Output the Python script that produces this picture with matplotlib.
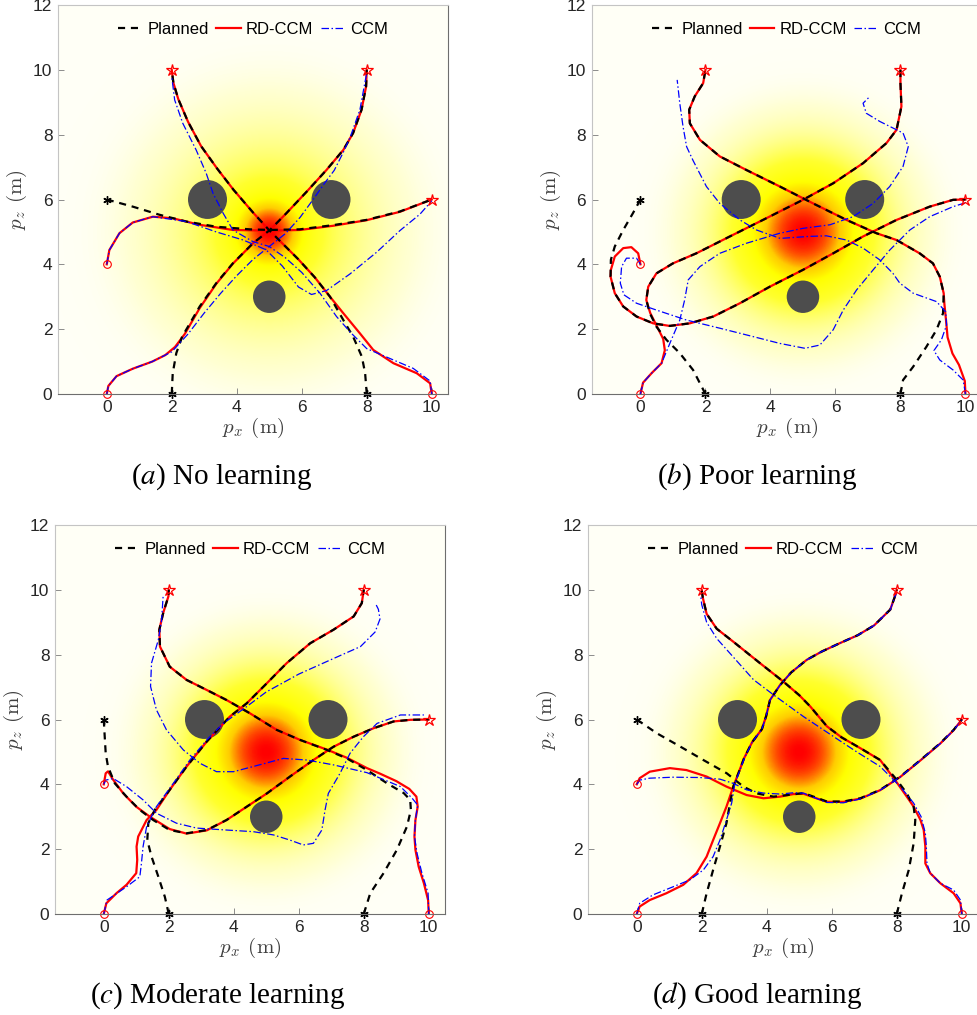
import numpy as np
import matplotlib
matplotlib.use("Agg")
import matplotlib.pyplot as plt
from matplotlib.colors import LinearSegmentedColormap
from matplotlib.patches import Circle

# ---------------- data ----------------
CAPTION_LETTERS = ["a", "b", "c", "d"]
CAPTION_TEXTS = ["No learning", "Poor learning", "Moderate learning", "Good learning"]
LEGEND_LABELS = ["Planned", "RD-CCM", "CCM"]
X_TICKS = [0, 2, 4, 6, 8, 10]
Y_TICKS = [0, 2, 4, 6, 8, 10, 12]
OBSTACLE_X = [3.1, 6.9, 5.0]
OBSTACLE_Y = [6.0, 6.0, 3.0]
OBSTACLE_R = [0.6, 0.6, 0.5]
FIELD_CENTER = (5.0, 5.0)
# Gaussian mixture (weight, sigma) describing the disturbance field per panel
FIELD_MIX = [[(0.5, 0.8), (0.5, 2.2)], [(1.0, 1.7)], [(1.0, 1.7)], [(1.0, 1.7)]]

# ---- (a) No learning ----
A_PLAN1 = [(2, 0), (2.03, 0.64), (2.14, 1.26), (2.32, 1.77), (2.6, 2.25), (2.86, 2.7), (3.37, 3.42), (3.88, 4.03), (4.5, 4.65), (5.02, 5.06), (5.53, 5.58), (6.15, 6.24), (6.76, 6.91), (7.28, 7.53), (7.58, 8.05), (7.84, 8.77), (7.98, 9.49), (8.0, 10)]
A_RD1 = [(0, 0), (0.05, 0.25), (0.3, 0.55), (0.8, 0.78), (1.4, 1.0), (1.8, 1.2), (2.1, 1.45), (2.4, 1.85), (2.86, 2.65), (3.37, 3.4), (3.88, 4.02), (4.5, 4.65), (5.02, 5.06), (5.53, 5.58), (6.15, 6.24), (6.76, 6.91), (7.28, 7.53), (7.58, 8.05), (7.84, 8.77), (7.98, 9.49), (8.0, 10)]
A_CCM1 = [(0, 0), (0.05, 0.25), (0.3, 0.55), (0.8, 0.78), (1.4, 1.0), (2.0, 1.3), (2.5, 1.85), (3.0, 2.5), (3.5, 3.1), (4.0, 3.65), (4.5, 4.15), (5.0, 4.55), (5.5, 4.95), (5.95, 5.45), (6.35, 6.0), (6.7, 6.5), (7.0, 6.9), (7.3, 7.5), (7.5, 7.95), (7.79, 8.77), (7.94, 9.59), (8.0, 9.9)]
A_PLAN2 = [(8, 0), (7.95, 0.64), (7.85, 1.15), (7.58, 1.77), (7.28, 2.28), (6.87, 3.0), (6.4, 3.6), (5.9, 4.15), (5.4, 4.65), (5.0, 5.05), (4.5, 5.6), (3.9, 6.3), (3.4, 6.95), (2.9, 7.65), (2.5, 8.4), (2.2, 9.1), (2.05, 9.6), (2, 10)]
A_RD2 = [(10, 0), (9.95, 0.33), (9.54, 0.64), (8.82, 0.95), (8.2, 1.36), (7.79, 1.87), (7.28, 2.49), (6.87, 3.0), (6.4, 3.6), (5.9, 4.15), (5.4, 4.65), (5.0, 5.05), (4.5, 5.6), (3.9, 6.3), (3.4, 6.95), (2.9, 7.65), (2.5, 8.4), (2.2, 9.1), (2.05, 9.6), (2, 10)]
A_CCM2 = [(10, 0), (9.95, 0.4), (9.43, 0.79), (8.82, 1.05), (8.0, 1.4), (7.5, 1.9), (7.07, 2.39), (6.56, 3.11), (6.0, 3.75), (5.5, 4.2), (5.0, 4.55), (4.5, 4.7), (3.88, 5.06), (3.58, 5.58), (3.27, 6.19), (3.06, 6.81), (2.75, 7.53), (2.34, 8.35), (2.09, 9.07), (2.0, 9.79)]
A_PLAN3 = [(0, 6.0), (0.8, 5.78), (1.62, 5.53), (2.45, 5.32), (3.37, 5.16), (4.4, 5.08), (5.02, 5.06), (5.94, 5.08), (6.97, 5.21), (7.99, 5.37), (9.02, 5.63), (10, 6.0)]
A_RD3 = [(0, 4.0), (0.08, 4.44), (0.39, 4.96), (0.8, 5.29), (1.42, 5.47), (2.03, 5.42), (2.86, 5.22), (3.88, 5.06), (5.02, 5.04), (5.94, 5.06), (6.97, 5.19), (7.99, 5.36), (9.02, 5.62), (10, 6.0)]
A_CCM3 = [(0, 4.0), (0.08, 4.44), (0.39, 4.96), (0.8, 5.29), (1.42, 5.47), (2.45, 5.32), (3.37, 5.0), (4.2, 4.75), (4.9, 4.45), (5.4, 3.95), (5.9, 3.3), (6.3, 3.07), (6.76, 3.19), (7.48, 3.7), (8.3, 4.37), (9.02, 5.04), (9.64, 5.55), (10, 5.96)]

# ---- (b) Poor learning ----
B_PLAN1 = [(2, 0), (1.62, 0.74), (1.21, 1.26), (0.8, 1.67), (0.49, 2.08), (0.29, 2.49), (0.18, 2.9), (0.24, 3.31), (0.49, 3.72), (1.0, 4.03), (1.72, 4.34), (2.75, 4.86), (3.77, 5.37), (5.0, 5.99), (5.93, 6.5), (6.85, 7.12), (7.57, 7.74), (7.88, 8.15), (8.03, 8.87), (8.0, 9.59), (8, 10)]
B_RD1 = [(0, 0), (0.08, 0.35), (0.35, 0.65), (0.65, 0.95), (0.75, 1.35), (0.7, 1.7), (0.5, 2.1), (0.3, 2.5), (0.18, 2.9), (0.24, 3.31), (0.49, 3.72), (1.0, 4.03), (1.72, 4.34), (2.75, 4.86), (3.77, 5.37), (5.0, 5.99), (5.93, 6.5), (6.85, 7.12), (7.57, 7.74), (7.88, 8.15), (8.03, 8.87), (8.0, 9.59), (8, 10)]
B_CCM1 = [(0, 0), (0.08, 0.35), (0.35, 0.65), (0.65, 0.95), (0.95, 1.67), (1.21, 2.28), (1.36, 2.9), (1.47, 3.52), (1.83, 3.93), (2.44, 4.34), (3.26, 4.65), (4.29, 4.96), (5.0, 5.11), (5.83, 5.22), (6.54, 5.47), (7.16, 5.88), (7.67, 6.4), (8.08, 7.02), (8.24, 7.63), (8.08, 8.05), (7.36, 8.41), (6.95, 8.66), (6.85, 8.97), (7.06, 9.18)]
B_PLAN2 = [(8, 0), (8.08, 0.43), (8.39, 0.84), (8.8, 1.46), (9.11, 1.98), (9.31, 2.49), (9.33, 3.11), (9.21, 3.62), (9.0, 4.03), (8.59, 4.34), (7.88, 4.75), (7.26, 4.96), (6.34, 5.37), (5.31, 5.88), (4.29, 6.4), (3.26, 6.91), (2.44, 7.33), (1.83, 7.84), (1.52, 8.35), (1.5, 8.77), (1.67, 9.18), (1.93, 9.59), (2, 10)]
B_RD2 = [(10, 0), (9.98, 0.4), (9.8, 0.9), (9.6, 1.25), (9.45, 1.75), (9.4, 2.3), (9.35, 2.8), (9.33, 3.11), (9.21, 3.62), (9.0, 4.03), (8.59, 4.34), (7.88, 4.75), (7.26, 4.96), (6.34, 5.37), (5.31, 5.88), (4.29, 6.4), (3.26, 6.91), (2.44, 7.33), (1.83, 7.84), (1.52, 8.35), (1.5, 8.77), (1.67, 9.18), (1.93, 9.59), (2, 10)]
B_CCM2 = [(10, 0), (9.93, 0.43), (9.62, 0.74), (9.21, 1.05), (9.03, 1.34), (9.26, 1.67), (9.42, 2.13), (9.39, 2.54), (9.11, 2.85), (8.39, 3.11), (7.98, 3.42), (7.77, 3.72), (7.36, 4.14), (6.85, 4.5), (6.34, 4.75), (5.72, 4.88), (5.16, 4.86), (4.3, 4.8), (3.57, 5.06), (3.06, 5.37), (2.44, 5.88), (2.03, 6.4), (1.62, 7.2), (1.42, 7.63), (1.31, 8.25), (1.21, 8.97), (1.13, 9.69)]
B_PLAN3 = [(0, 6.0), (-0.23, 5.58), (-0.53, 5.06), (-0.79, 4.55), (-0.91, 4.14), (-0.92, 3.62), (-0.79, 3.11), (-0.53, 2.7), (-0.12, 2.39), (0.39, 2.18), (0.9, 2.1), (1.52, 2.18), (2.24, 2.39), (3.06, 2.8), (3.98, 3.31), (5.0, 3.83), (5.93, 4.34), (6.85, 4.86), (7.88, 5.37), (8.9, 5.78), (9.62, 5.99), (10, 6)]
B_RD3 = [(0, 4.0), (-0.07, 4.34), (-0.28, 4.53), (-0.53, 4.5), (-0.79, 4.24), (-0.91, 3.83), (-0.92, 3.62), (-0.79, 3.11), (-0.53, 2.7), (-0.12, 2.39), (0.39, 2.18), (0.9, 2.1), (1.52, 2.18), (2.24, 2.39), (3.06, 2.8), (3.98, 3.31), (5.0, 3.83), (5.93, 4.34), (6.85, 4.86), (7.88, 5.37), (8.9, 5.78), (9.62, 5.99), (10, 6)]
B_CCM3 = [(0, 4.0), (-0.12, 4.19), (-0.43, 4.19), (-0.58, 3.93), (-0.62, 3.42), (-0.51, 3.06), (-0.12, 2.8), (0.49, 2.59), (1.42, 2.28), (2.44, 2.03), (3.47, 1.77), (4.29, 1.56), (5.06, 1.41), (5.52, 1.51), (5.93, 1.98), (6.24, 2.59), (6.65, 3.21), (7.16, 3.83), (7.67, 4.44), (8.29, 5.06), (8.9, 5.47), (9.62, 5.78), (10, 5.9)]

# ---- (c) Moderate learning ----
C_PLAN1 = [(2, 0), (1.88, 0.53), (1.68, 1.15), (1.47, 1.77), (1.34, 2.28), (1.37, 2.8), (1.57, 3.21), (2.03, 3.83), (2.55, 4.55), (3.17, 5.32), (3.88, 6.09), (4.4, 6.5), (5.02, 7.12), (5.63, 7.74), (6.35, 8.35), (7.07, 8.77), (7.69, 9.18), (7.94, 9.59), (8, 10)]
C_RD1 = [(0, 0), (0.08, 0.33), (0.39, 0.64), (0.7, 0.9), (1.0, 1.26), (1.03, 1.67), (1.01, 2.08), (1.06, 2.39), (1.32, 2.9), (1.62, 3.21), (2.03, 3.83), (2.55, 4.55), (3.17, 5.32), (3.88, 6.09), (4.4, 6.5), (5.02, 7.12), (5.63, 7.74), (6.35, 8.35), (7.07, 8.77), (7.69, 9.18), (7.94, 9.59), (8, 10)]
C_CCM1 = [(0, 0), (0.1, 0.43), (0.7, 0.84), (1.11, 1.15), (1.16, 1.57), (1.21, 2.08), (1.32, 2.7), (1.62, 3.31), (2.14, 4.03), (2.65, 4.75), (3.17, 5.37), (3.68, 5.88), (4.4, 6.4), (5.0, 6.85), (6.0, 7.4), (7.0, 7.85), (7.9, 8.25), (8.35, 8.7), (8.5, 9.1), (8.45, 9.4), (8.35, 9.6)]
C_PLAN2 = [(8, 0), (8.2, 0.64), (8.61, 1.26), (9.02, 1.98), (9.33, 2.7), (9.45, 3.21), (9.43, 3.52), (9.23, 3.73), (8.72, 4.03), (8.1, 4.44), (7.48, 4.8), (6.87, 5.06), (6.04, 5.37), (5.32, 5.68), (4.5, 6.19), (3.78, 6.6), (3.17, 6.91), (2.55, 7.22), (2.03, 7.63), (1.73, 8.25), (1.71, 8.77), (1.83, 9.29), (1.99, 9.8), (2, 10)]
C_RD2 = [(10, 0), (9.98, 0.43), (9.85, 0.95), (9.69, 1.46), (9.59, 1.98), (9.56, 2.39), (9.59, 2.9), (9.66, 3.31), (9.62, 3.62), (9.4, 3.86), (9.0, 4.1), (8.5, 4.33), (8.1, 4.5), (7.48, 4.82), (6.87, 5.07), (6.04, 5.37), (5.32, 5.68), (4.5, 6.19), (3.78, 6.6), (3.17, 6.91), (2.55, 7.22), (2.03, 7.63), (1.73, 8.25), (1.71, 8.77), (1.83, 9.29), (1.99, 9.8), (2, 10)]
C_CCM2 = [(10, 0), (9.98, 0.64), (9.79, 1.26), (9.64, 1.87), (9.56, 2.39), (9.59, 2.9), (9.66, 3.36), (9.49, 3.57), (9.13, 3.93), (8.1, 4.36), (7.07, 4.6), (6.25, 4.75), (5.53, 4.8), (4.6, 4.55), (3.99, 4.39), (3.47, 4.39), (2.96, 4.65), (2.45, 5.06), (1.93, 5.68), (1.62, 6.3), (1.44, 7.02), (1.47, 7.74), (1.68, 8.46), (1.78, 9.07), (1.83, 9.85)]
C_PLAN3 = [(0, 6.0), (0.03, 5.47), (0.06, 4.96), (0.13, 4.55), (0.34, 4.03), (0.7, 3.62), (1.11, 3.21), (1.52, 2.9), (2.03, 2.59), (2.55, 2.49), (3.17, 2.59), (3.78, 2.9), (4.4, 3.31), (5.02, 3.72), (5.73, 4.24), (6.45, 4.75), (7.07, 5.16), (7.69, 5.47), (8.3, 5.73), (8.92, 5.94), (9.44, 5.99), (10, 6.0)]
C_RD3 = [(0, 4.0), (0.06, 4.34), (0.13, 4.4), (0.29, 4.14), (0.6, 3.72), (1.0, 3.31), (1.42, 3.0), (2.03, 2.62), (2.55, 2.48), (3.17, 2.58), (3.78, 2.9), (4.4, 3.31), (5.02, 3.72), (5.73, 4.24), (6.45, 4.75), (7.07, 5.16), (7.69, 5.47), (8.3, 5.73), (8.92, 5.94), (9.44, 5.99), (10, 6.0)]
C_CCM3 = [(0, 4.0), (0.06, 4.13), (0.29, 4.18), (0.7, 3.93), (1.21, 3.52), (1.62, 3.11), (2.24, 2.8), (2.86, 2.65), (3.78, 2.59), (4.6, 2.54), (5.22, 2.44), (5.73, 2.28), (6.14, 2.13), (6.45, 2.18), (6.71, 2.59), (6.81, 3.21), (6.91, 3.72), (7.27, 4.34), (7.58, 4.96), (7.99, 5.47), (8.41, 5.88), (9.13, 6.14), (9.85, 6.14)]

# ---- (d) Good learning ----
D_PLAN1 = [(2, 0), (2.15, 0.64), (2.35, 1.36), (2.56, 2.08), (2.76, 2.8), (2.87, 3.42), (2.97, 3.93), (3.15, 4.4), (3.3, 4.8), (3.55, 5.3), (3.85, 5.7), (3.98, 6.1), (4.1, 6.6), (4.4, 7.05), (4.75, 7.45), (5.23, 7.84), (5.7, 8.1), (6.26, 8.36), (6.8, 8.6), (7.3, 8.9), (7.8, 9.39), (7.98, 9.9), (8, 10)]
D_RD1 = [(0, 0), (0.09, 0.23), (0.4, 0.43), (0.91, 0.64), (1.43, 0.9), (1.84, 1.26), (2.15, 1.77), (2.35, 2.28), (2.56, 2.8), (2.76, 3.31), (2.97, 3.93), (3.15, 4.4), (3.3, 4.8), (3.55, 5.3), (3.85, 5.7), (3.98, 6.1), (4.1, 6.6), (4.4, 7.05), (4.75, 7.45), (5.23, 7.84), (5.7, 8.1), (6.26, 8.36), (6.8, 8.6), (7.3, 8.9), (7.8, 9.39), (7.98, 9.9), (8, 10)]
D_CCM1 = [(0, 0), (0.09, 0.33), (0.5, 0.59), (1.12, 0.84), (1.63, 1.05), (2.05, 1.36), (2.35, 1.77), (2.56, 2.28), (2.76, 2.9), (2.92, 3.42), (3.02, 4.03), (3.17, 4.42), (3.31, 4.8), (3.55, 5.3), (3.85, 5.7), (3.98, 6.1), (4.1, 6.6), (4.4, 7.05), (4.75, 7.45), (5.23, 7.84), (5.7, 8.1), (6.26, 8.36), (6.8, 8.6), (7.3, 8.9), (7.8, 9.39), (7.98, 9.88)]
D_PLAN2 = [(8, 0), (8.16, 0.64), (8.37, 1.36), (8.52, 2.18), (8.57, 2.9), (8.52, 3.31), (8.31, 3.72), (8.0, 4.14), (7.49, 4.75), (6.87, 5.12), (6.3, 5.45), (5.85, 5.79), (5.34, 6.4), (5.0, 6.75), (4.51, 7.17), (3.79, 7.74), (2.97, 8.4), (2.46, 8.8), (2.15, 9.26), (2.03, 9.77), (2, 10)]
D_RD2 = [(10, 0), (9.96, 0.33), (9.75, 0.64), (9.34, 0.95), (9.03, 1.26), (8.88, 1.56), (8.88, 2.08), (8.83, 2.59), (8.73, 2.9), (8.52, 3.31), (8.31, 3.62), (8.0, 4.06), (7.49, 4.75), (6.87, 5.12), (6.3, 5.45), (5.85, 5.79), (5.34, 6.4), (5.0, 6.75), (4.51, 7.17), (3.79, 7.74), (2.97, 8.4), (2.46, 8.8), (2.15, 9.26), (2.03, 9.77), (2, 10)]
D_CCM2 = [(10, 0), (9.96, 0.43), (9.75, 0.74), (9.34, 0.95), (9.03, 1.26), (8.93, 1.56), (8.91, 2.08), (8.88, 2.49), (8.75, 3.0), (8.52, 3.42), (8.11, 3.93), (7.49, 4.55), (6.77, 5.0), (6.21, 5.37), (5.13, 6.09), (4.21, 6.76), (3.59, 7.23), (2.95, 7.95), (2.46, 8.5), (2.15, 9.0), (2.0, 9.54), (1.97, 9.8)]
D_PLAN3 = [(0, 6.0), (0.61, 5.58), (1.33, 5.17), (2.05, 4.75), (2.77, 4.34), (3.28, 3.93), (3.69, 3.72), (4.21, 3.62), (4.72, 3.68), (5.13, 3.73), (5.44, 3.62), (5.85, 3.47), (6.36, 3.47), (6.88, 3.57), (7.49, 3.83), (8.11, 4.24), (8.73, 4.75), (9.34, 5.27), (9.75, 5.68), (10, 6.0)]
D_RD3 = [(0, 4.0), (0.09, 4.19), (0.4, 4.39), (1.02, 4.5), (1.53, 4.44), (2.15, 4.24), (2.76, 3.93), (3.38, 3.67), (3.9, 3.57), (4.41, 3.62), (4.82, 3.7), (5.13, 3.71), (5.44, 3.6), (5.85, 3.46), (6.36, 3.46), (6.88, 3.56), (7.49, 3.82), (8.11, 4.23), (8.73, 4.74), (9.34, 5.26), (9.75, 5.67), (10, 6.0)]
D_CCM3 = [(0, 4.0), (0.09, 4.13), (0.4, 4.19), (1.12, 4.22), (1.94, 4.21), (2.56, 4.16), (2.97, 4.03), (3.38, 3.83), (3.9, 3.73), (4.41, 3.7), (4.82, 3.74), (5.13, 3.73), (5.44, 3.6), (5.85, 3.44), (6.36, 3.43), (6.88, 3.55), (7.49, 3.82), (8.11, 4.23), (8.73, 4.74), (9.34, 5.26), (9.75, 5.67), (10, 5.98)]

PANELS = [
    ([A_PLAN1, A_PLAN2, A_PLAN3], [A_RD1, A_RD2, A_RD3], [A_CCM1, A_CCM2, A_CCM3]),
    ([B_PLAN1, B_PLAN2, B_PLAN3], [B_RD1, B_RD2, B_RD3], [B_CCM1, B_CCM2, B_CCM3]),
    ([C_PLAN1, C_PLAN2, C_PLAN3], [C_RD1, C_RD2, C_RD3], [C_CCM1, C_CCM2, C_CCM3]),
    ([D_PLAN1, D_PLAN2, D_PLAN3], [D_RD1, D_RD2, D_RD3], [D_CCM1, D_CCM2, D_CCM3]),
]

# ---------------- layout / style ----------------
W, H = 977, 1015
fig = plt.figure(figsize=(W / 100, H / 100), dpi=100)

AX_W, AX_H = 390, 389
axes_px = [(58, 5), (591.7, 5), (55, 525), (588, 525)]  # left, top in pixels
caption_px = [(222, 477), (757, 477), (218, 996), (757, 996)]

heat_cmap = LinearSegmentedColormap.from_list(
    "field",
    [(0.0, (1.0, 1.0, 0.965)), (0.015, (1.0, 1.0, 0.95)), (0.065, (1.0, 1.0, 0.83)),
     (0.21, (1.0, 1.0, 0.58)), (0.43, (1.0, 1.0, 0.18)), (0.66, (1.0, 1.0, 0.0)),
     (0.80, (1.0, 0.8, 0.0)), (0.92, (1.0, 0.3, 0.0)), (1.0, (1.0, 0.0, 0.0))])

XLIM = (-1.5, 10.5)
YLIM = (0, 12)
gx = np.linspace(XLIM[0], XLIM[1], 400)
gy = np.linspace(YLIM[0], YLIM[1], 400)
GX, GY = np.meshgrid(gx, gy)
R2 = (GX - FIELD_CENTER[0]) ** 2 + (GY - FIELD_CENTER[1]) ** 2

TICK_COLOR = "#262626"
LABEL_COLOR = "#404040"

for k, (plans, rds, ccms) in enumerate(PANELS):
    lx, ty = axes_px[k]
    ax = fig.add_axes([lx / W, 1 - (ty + AX_H) / H, AX_W / W, AX_H / H])
    field = np.zeros_like(R2)
    for w, s in FIELD_MIX[k]:
        field += w * np.exp(-R2 / (2 * s * s))
    ax.imshow(field, extent=[XLIM[0], XLIM[1], YLIM[0], YLIM[1]], origin="lower",
              cmap=heat_cmap, vmin=0, vmax=1, interpolation="bilinear", aspect="auto", zorder=0)

    for cx, cy, r in zip(OBSTACLE_X, OBSTACLE_Y, OBSTACLE_R):
        ax.add_patch(Circle((cx, cy), r, facecolor="#4d4d4d", edgecolor="none", zorder=1))

    handles = []
    for i in range(3):
        rx, ry = zip(*rds[i])
        hr, = ax.plot(rx, ry, color="red", lw=1.6, zorder=2)
        px_, py_ = zip(*plans[i])
        hp, = ax.plot(px_, py_, color="black", lw=1.6, ls=(0, (3.2, 2.6)), zorder=3)
        bx, by = zip(*ccms[i])
        hb, = ax.plot(bx, by, color="blue", lw=0.9, ls=(0, (6, 2, 1.2, 2)), zorder=4)
        if i == 0:
            handles = [hp, hr, hb]
        ax.plot([rds[i][0][0]], [rds[i][0][1]], ls="none", marker="o", ms=5.5,
                mfc="none", mec="red", mew=0.8, zorder=6, clip_on=False)
        ax.plot([plans[i][-1][0]], [plans[i][-1][1]], ls="none", marker="*", ms=9,
                mfc="none", mec="red", mew=0.9, zorder=6, clip_on=False)
        ax.plot([plans[i][0][0]], [plans[i][0][1]], ls="none", marker=(6, 2, 0), ms=6,
                color="black", mew=1.0, zorder=6, clip_on=False)

    ax.set_xlim(*XLIM)
    ax.set_ylim(*YLIM)
    ax.set_xticks(X_TICKS)
    ax.set_yticks(Y_TICKS)
    ax.tick_params(direction="in", length=4, width=0.6, color="#7a7a7a",
                   labelsize=12.5, labelcolor=TICK_COLOR, pad=4)
    for lab in ax.get_xticklabels() + ax.get_yticklabels():
        lab.set_fontfamily("Liberation Sans")
    for side in ["left", "top"]:
        ax.spines[side].set_color("#c4c4c4")
    for side in ["bottom", "right"]:
        ax.spines[side].set_color("#6e6e6e")
    for sp in ax.spines.values():
        sp.set_linewidth(0.8)
        sp.set_zorder(7)

    ax.set_xlabel(r"$p_x\;\,(\mathrm{m})$", fontsize=15, color=LABEL_COLOR,
                  math_fontfamily="cm", labelpad=1)
    ax.set_ylabel(r"$p_z\;\,(\mathrm{m})$", fontsize=15, color=LABEL_COLOR,
                  math_fontfamily="cm", labelpad=3)

    ax.legend(handles, LEGEND_LABELS, loc="upper center", bbox_to_anchor=(0.5, 0.995),
              ncol=3, frameon=False, handlelength=1.45, handletextpad=0.3,
              columnspacing=0.45, prop={"family": "Liberation Sans", "size": 12})

    cxp, cyp = caption_px[k]
    fig.text(cxp / W, 1 - cyp / H,
             "(" + r"$\mathit{" + CAPTION_LETTERS[k] + r"}$" + ") " + CAPTION_TEXTS[k],
             ha="center", va="center", fontsize=21, family="Liberation Serif",
             math_fontfamily="stix", color="black")

fig.savefig("out.png", dpi=100)
